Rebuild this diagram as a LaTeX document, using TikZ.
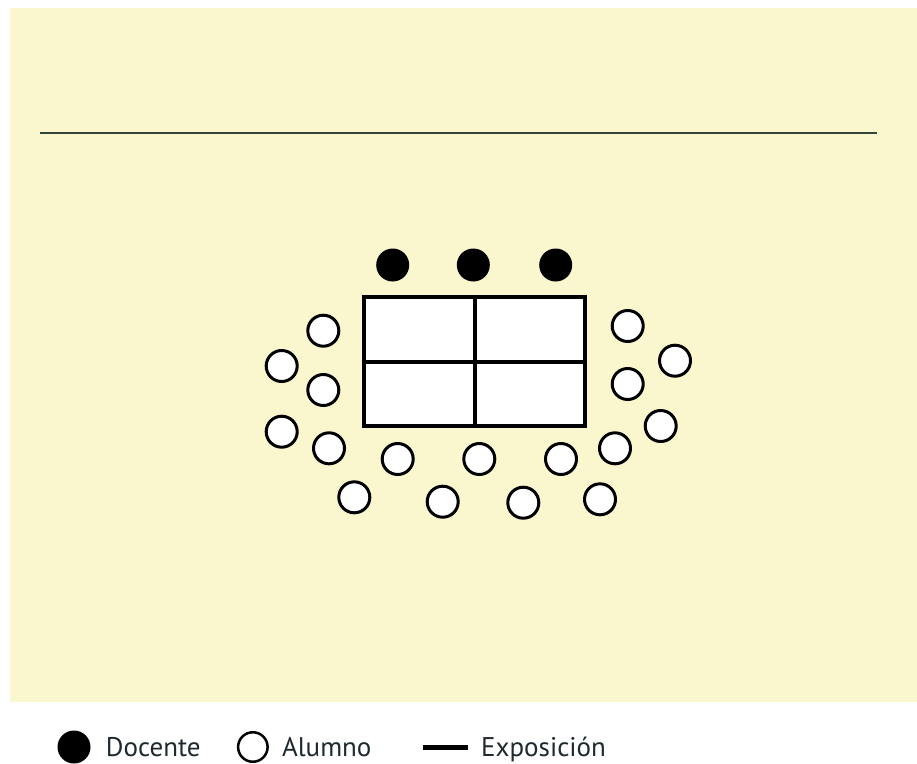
\documentclass[tikz,border=0pt]{standalone}
\usepackage{fontspec}
\setmainfont{PT Sans}
\usetikzlibrary{positioning}
\definecolor{fondo}{HTML}{FAF6CD}
\definecolor{raya}{HTML}{34453A}
\definecolor{texto}{HTML}{1E2A2E}
\tikzset{
  docente/.style={circle, fill=black, inner sep=0pt, minimum size=33pt},
  alumno/.style={circle, draw=black, line width=3pt, fill=white,
                 inner sep=0pt, minimum size=31pt},
  mesa/.style={draw=black, line width=4pt, fill=white, inner sep=0pt,
               minimum width=221.6pt, minimum height=129.3pt},
  div/.style={line width=4pt},
  ley/.style={font=\fontsize{27}{30}\selectfont, text=texto,
              inner sep=0pt, text height=19pt, text depth=0pt},
}

\begin{document}
\begin{tikzpicture}[x=1pt, y=-1pt]
  \useasboundingbox[fill=white] (0,0) rectangle (917,763);
  \fill[fondo] (10,8) rectangle (917,702);
  \draw[raya, line width=1.5pt] (40,133) -- (877,133);

  % mesa
  \node[mesa] (mesa) at (474.5,361.7) {};
  \draw[div] (mesa.north) -- (mesa.south);
  \draw[div] (mesa.west) -- (mesa.east);

  % docentes
  \node[docente] (d1) at (392.7,265) {};
  \node[docente] (d2) at (473.3,265) {};
  \node[docente] (d3) at (555.7,265) {};

  % alumnos
  \foreach \i/\x/\y in {1/323.3/330.7, 2/281.7/366, 3/323.3/390,
      4/281.7/431.7, 5/329/448.3, 6/354.3/497.3, 7/397.7/459,
      8/442.7/501.7, 9/479.3/459, 10/523.3/502.7, 11/561/459,
      12/600/499.3, 13/615/448.3, 14/660.7/426, 15/627.7/384,
      16/675/360.7, 17/627.7/326}
    \node[alumno] (a\i) at (\x,\y) {};

  % leyenda
  \node[docente] (lD) at (74,747) {};
  \node[ley, right=15pt of lD] (tD) {Docente};
  \node[alumno, line width=2.5pt, minimum size=29.5pt, right=36pt of tD] (lA) {};
  \node[ley, right=13pt of lA] (tA) {Alumno};
  \node[fill=black, inner sep=0pt, minimum width=45pt, minimum height=5pt,
        right=51pt of tA] (lE) {};
  \node[ley, right=13pt of lE] (tE) {Exposición};
\end{tikzpicture}
\end{document}
